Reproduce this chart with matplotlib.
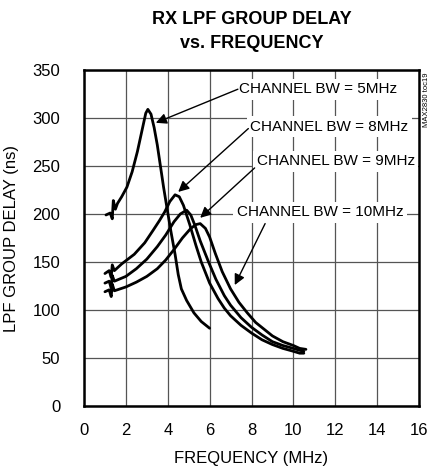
import matplotlib
matplotlib.use("Agg")
import matplotlib.pyplot as plt

# valores (MHz, ns)
bw5_x = [1.05, 1.25, 1.35, 1.4, 1.5, 1.6, 1.8, 2.05, 2.3, 2.55, 2.8, 2.95, 3.05, 3.2, 3.35,
         3.5, 3.65, 3.8, 3.95, 4.15, 4.35, 4.5, 4.65, 4.9, 5.25, 5.6, 6.0]
bw5_y = [199, 201, 195, 214, 205, 211, 218, 228, 244, 265, 290, 305, 309, 304, 290,
         272, 250, 228, 208, 182, 158, 137, 122, 110, 97, 88, 81]

bw8_x = [1.0, 1.2, 1.3, 1.35, 1.45, 1.8, 2.4, 2.9, 3.3, 3.6, 3.85, 4.1, 4.35, 4.55, 4.75,
         5.05, 5.35, 5.6, 6.0, 6.4, 6.7, 7.0, 7.5, 8.0, 8.5, 9.0, 9.5, 10.0, 10.3, 10.5]
bw8_y = [138, 141, 134, 147, 141, 148, 158, 170, 183, 193, 202, 213, 220, 218, 209,
         189, 167, 150, 128, 112, 102, 94, 84, 76, 69, 64, 60, 57, 55, 55]

bw9_x = [1.0, 1.2, 1.3, 1.35, 1.45, 2.0, 2.5, 3.0, 3.5, 3.9, 4.3, 4.6, 4.9, 5.1, 5.3,
         5.55, 5.75, 5.95, 6.3, 6.7, 7.0, 7.5, 8.0, 8.5, 9.0, 9.5, 10.0, 10.3, 10.5]
bw9_y = [128, 130, 123, 136, 130, 135, 143, 153, 166, 178, 192, 200, 204, 199, 188,
         172, 161, 150, 132, 115, 105, 92, 82, 74, 67, 63, 60, 58, 57]

bw10_x = [1.0, 1.2, 1.3, 1.35, 1.45, 2.0, 2.5, 3.0, 3.5, 3.9, 4.3, 4.7, 5.1, 5.35, 5.55,
          5.8, 6.0, 6.27, 6.6, 7.0, 7.4, 7.8, 8.2, 8.6, 9.0, 9.5, 10.0, 10.3, 10.6]
bw10_y = [119, 121, 114, 127, 120, 124, 129, 135, 143, 152, 163, 175, 185, 189, 190,
          185, 176, 159, 140, 122, 108, 97, 87, 80, 73, 67, 63, 60, 59]

x_ticks = [0, 2, 4, 6, 8, 10, 12, 14, 16]
y_ticks = [0, 50, 100, 150, 200, 250, 300, 350]

plt.rcParams['font.family'] = ['Liberation Sans', 'DejaVu Sans']

fig = plt.figure(figsize=(4.29, 4.71), dpi=100)
ax = fig.add_axes([84/429, 1 - 406/471, 335/429, 336/471])

for xs, ys in [(bw5_x, bw5_y), (bw8_x, bw8_y), (bw9_x, bw9_y), (bw10_x, bw10_y)]:
    ax.plot(xs, ys, color='black', lw=2.0, solid_joinstyle='round',
            solid_capstyle='round', zorder=3)

ax.set_xlim(0, 16)
ax.set_ylim(0, 350)
ax.set_xticks(x_ticks)
ax.set_yticks(y_ticks)
ax.tick_params(length=0, labelsize=12, pad=12)
ax.tick_params(axis='y', pad=17)
ax.grid(True, color='#555555', lw=0.9)
for s in ax.spines.values():
    s.set_linewidth(1.8)

ax.set_xlabel('FREQUENCY (MHz)', fontsize=12)
ax.set_ylabel('LPF GROUP DELAY (ns)', fontsize=12)
ax.xaxis.set_label_coords(0.5, -0.135)
ax.yaxis.set_label_coords(-0.195, 0.5)

# legendas com setas
anot = [
    ('CHANNEL BW = 5MHz', (3.43, 295), (7.4, 330)),
    ('CHANNEL BW = 8MHz', (4.5, 223), (7.95, 291)),
    ('CHANNEL BW = 9MHz', (5.55, 196), (8.25, 255)),
    ('CHANNEL BW = 10MHz', (7.2, 126), (7.3, 202)),
]
for txt, tip, pos in anot:
    ax.text(pos[0], pos[1], txt, fontsize=11, ha='left', va='center', zorder=4,
            bbox=dict(facecolor='white', edgecolor='none', pad=2.5))

arrow_starts = [(7.35, 330), (7.85, 289), (8.15, 248), (8.65, 190)]
for (txt, tip, pos), st in zip(anot, arrow_starts):
    ax.annotate('', xy=tip, xytext=st, zorder=5,
                arrowprops=dict(arrowstyle='-|>', color='black', lw=1.0,
                                mutation_scale=16, shrinkA=0, shrinkB=0))

fig.text(252/429, 1 - 19/471, 'RX LPF GROUP DELAY', fontsize=13, fontweight='bold',
         ha='center', va='center')
fig.text(252/429, 1 - 43/471, 'vs. FREQUENCY', fontsize=13, fontweight='bold',
         ha='center', va='center')
fig.text(426/429, 1 - 100/471, 'MAX2830 toc19', fontsize=5.5, rotation=90,
         ha='center', va='center')

fig.savefig('out.png', dpi=100)
